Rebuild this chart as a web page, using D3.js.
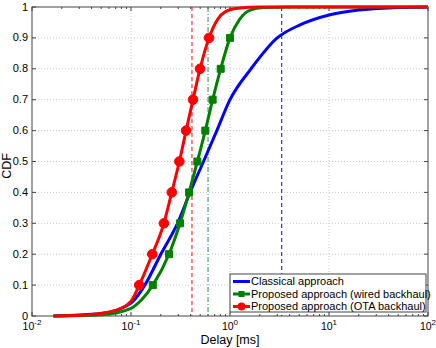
<!DOCTYPE html>
<html>
<head>
<meta charset="utf-8">
<script src="https://cdn.jsdelivr.net/npm/d3@7"></script>
<style>
  body { margin: 0; background: #fff; }
  svg { font-family: "Liberation Sans", Arial, sans-serif; }
</style>
</head>
<body>
<svg width="436" height="348"></svg>
<script>
// CDF curves (delay in ms, cdf value)
var classicalDelay = [0.0165, 0.05, 0.1, 0.138, 0.2, 0.295, 0.395, 0.54, 0.736, 1.0, 1.63, 3.0, 5.1, 10, 20, 50, 100];
var classicalCdf   = [0, 0.008, 0.042, 0.1, 0.2, 0.3, 0.4, 0.5, 0.6, 0.7, 0.8, 0.9, 0.942, 0.974, 0.99, 0.998, 1];

var wiredDelay = [0.0165, 0.05, 0.1, 0.13, 0.166, 0.242, 0.313, 0.386, 0.468, 0.563, 0.668, 0.805, 1.0, 1.25, 1.6, 2.2, 4, 100];
var wiredCdf   = [0, 0.004, 0.025, 0.055, 0.1, 0.2, 0.3, 0.4, 0.5, 0.6, 0.7, 0.8, 0.9, 0.96, 0.99, 0.998, 1, 1];

var otaDelay = [0.0165, 0.04, 0.07, 0.1, 0.121, 0.164, 0.215, 0.258, 0.308, 0.36, 0.423, 0.498, 0.614, 0.75, 0.9, 1.2, 2, 100];
var otaCdf   = [0, 0.005, 0.018, 0.048, 0.1, 0.2, 0.3, 0.4, 0.5, 0.6, 0.7, 0.8, 0.9, 0.96, 0.985, 0.996, 1, 1];

// marker levels (cdf 0.1 .. 0.9)
var markerLevels = [0.1, 0.2, 0.3, 0.4, 0.5, 0.6, 0.7, 0.8, 0.9];

// mean delays (vertical reference lines)
var meanOta = 0.413, meanWired = 0.6, meanClassical = 3.33;

var yTicks = [0, 0.1, 0.2, 0.3, 0.4, 0.5, 0.6, 0.7, 0.8, 0.9, 1];
var xExps = [-2, -1, 0, 1, 2];

var svg = d3.select("svg"),
    margin = {top: 7, right: 8, bottom: 32, left: 32},
    width = +svg.attr("width") - margin.left - margin.right,
    height = +svg.attr("height") - margin.top - margin.bottom;

var x = d3.scaleLog().domain([0.01, 100]).range([0, width]),
    y = d3.scaleLinear().domain([0, 1]).range([height, 0]);

var g = svg.append("g")
    .attr("transform", "translate(" + margin.left + "," + margin.top + ")");

// grid
g.selectAll(".gx").data(xExps.slice(1, -1)).enter().append("line")
    .attr("x1", function(d) { return x(Math.pow(10, d)); })
    .attr("x2", function(d) { return x(Math.pow(10, d)); })
    .attr("y1", 0).attr("y2", height)
    .attr("stroke", "#c8c8c8").attr("stroke-dasharray", "1,2");
g.selectAll(".gy").data(yTicks.slice(1, -1)).enter().append("line")
    .attr("x1", 0).attr("x2", width)
    .attr("y1", function(d) { return y(d); })
    .attr("y2", function(d) { return y(d); })
    .attr("stroke", "#c8c8c8").attr("stroke-dasharray", "1,2");

// ticks, inside, on all four sides
var minor = [];
for (var e = -2; e < 2; e++) for (var k = 2; k <= 9; k++) minor.push(k * Math.pow(10, e));
var tickG = g.append("g").attr("stroke", "#444").attr("stroke-width", 1);
[0, height].forEach(function(yy) {
  var dir = yy === 0 ? 1 : -1;
  xExps.forEach(function(ex) {
    var xx = x(Math.pow(10, ex));
    tickG.append("line").attr("x1", xx).attr("x2", xx).attr("y1", yy).attr("y2", yy + dir * 4);
  });
  minor.forEach(function(m) {
    tickG.append("line").attr("x1", x(m)).attr("x2", x(m)).attr("y1", yy).attr("y2", yy + dir * 2);
  });
});
[0, width].forEach(function(xx) {
  var dir = xx === 0 ? 1 : -1;
  yTicks.forEach(function(t) {
    tickG.append("line").attr("x1", xx).attr("x2", xx + dir * 4).attr("y1", y(t)).attr("y2", y(t));
  });
});

// box
g.append("rect").attr("width", width).attr("height", height)
    .attr("fill", "none").attr("stroke", "#444").attr("stroke-width", 1);

// tick labels
g.selectAll(".yl").data(yTicks).enter().append("text")
    .attr("x", -4).attr("y", function(d) { return y(d); })
    .attr("dy", "0.32em").attr("text-anchor", "end")
    .attr("font-size", 11).attr("fill", "#000")
    .text(function(d) { return d; });

var xl = g.selectAll(".xl").data(xExps).enter().append("text")
    .attr("x", function(d) { return x(Math.pow(10, d)); })
    .attr("y", height + 14)
    .attr("text-anchor", "middle")
    .attr("font-size", 10.5).attr("fill", "#000");
xl.append("tspan").text("10");
xl.append("tspan").attr("dy", -5).attr("font-size", 8).text(function(d) { return d; });

// axis titles
svg.append("text").attr("x", margin.left + width / 2).attr("y", 344)
    .attr("text-anchor", "middle").attr("font-size", 12.5).text("Delay [ms]");
svg.append("text").attr("transform", "translate(11,166) rotate(-90)")
    .attr("text-anchor", "middle").attr("font-size", 12.5).text("CDF");

// mean lines
var vl = g.append("g");
vl.append("line").attr("x1", x(meanOta)).attr("x2", x(meanOta)).attr("y1", 0).attr("y2", height)
    .attr("stroke", "#ff0000").attr("stroke-dasharray", "4,3");
vl.append("line").attr("x1", x(meanWired)).attr("x2", x(meanWired)).attr("y1", 0).attr("y2", height)
    .attr("stroke", "#2e8b57").attr("stroke-dasharray", "5,2,1,2");
vl.append("line").attr("x1", x(meanClassical)).attr("x2", x(meanClassical)).attr("y1", 0).attr("y2", height)
    .attr("stroke", "#0000ff").attr("stroke-dasharray", "4,3");

// curves
var line = d3.line()
    .x(function(d) { return x(d[0]); })
    .y(function(d) { return y(d[1]); })
    .curve(d3.curveMonotoneX);

var series = [
  {name: "Classical approach", delay: classicalDelay, cdf: classicalCdf, color: "#0000ff", marker: null},
  {name: "Proposed approach (wired backhaul)", delay: wiredDelay, cdf: wiredCdf, color: "#008000", marker: "square"},
  {name: "Proposed approach (OTA backhaul)", delay: otaDelay, cdf: otaCdf, color: "#ff0000", marker: "circle"}
];

series.forEach(function(s) {
  var pts = d3.zip(s.delay, s.cdf);
  g.append("path").datum(pts)
      .attr("fill", "none").attr("stroke", s.color).attr("stroke-width", 3)
      .attr("d", line);
  if (!s.marker) return;
  var mk = pts.filter(function(p) { return markerLevels.indexOf(p[1]) >= 0; });
  g.selectAll(null).data(mk).enter().append("path")
      .attr("transform", function(d) { return "translate(" + x(d[0]) + "," + y(d[1]) + ")"; })
      .attr("d", d3.symbol().type(s.marker === "square" ? d3.symbolSquare : d3.symbolCircle)
          .size(s.marker === "square" ? 49 : 72))
      .attr("fill", s.color).attr("stroke", s.color);
});

// legend
var lg = svg.append("g").attr("transform", "translate(230,274)");
lg.append("rect").attr("width", 196).attr("height", 38)
    .attr("fill", "#fff").attr("stroke", "#444");
series.forEach(function(s, i) {
  var yy = 7.5 + i * 12.5;
  lg.append("line").attr("x1", 3).attr("x2", 20).attr("y1", yy).attr("y2", yy)
      .attr("stroke", s.color).attr("stroke-width", 3);
  if (s.marker) {
    lg.append("path").attr("transform", "translate(11.5," + yy + ")")
        .attr("d", d3.symbol().type(s.marker === "square" ? d3.symbolSquare : d3.symbolCircle)
            .size(s.marker === "square" ? 36 : 49))
        .attr("fill", s.color);
  }
  lg.append("text").attr("x", 21).attr("y", yy).attr("dy", "0.35em")
      .attr("font-size", 11).text(s.name);
});
</script>
</body>
</html>
